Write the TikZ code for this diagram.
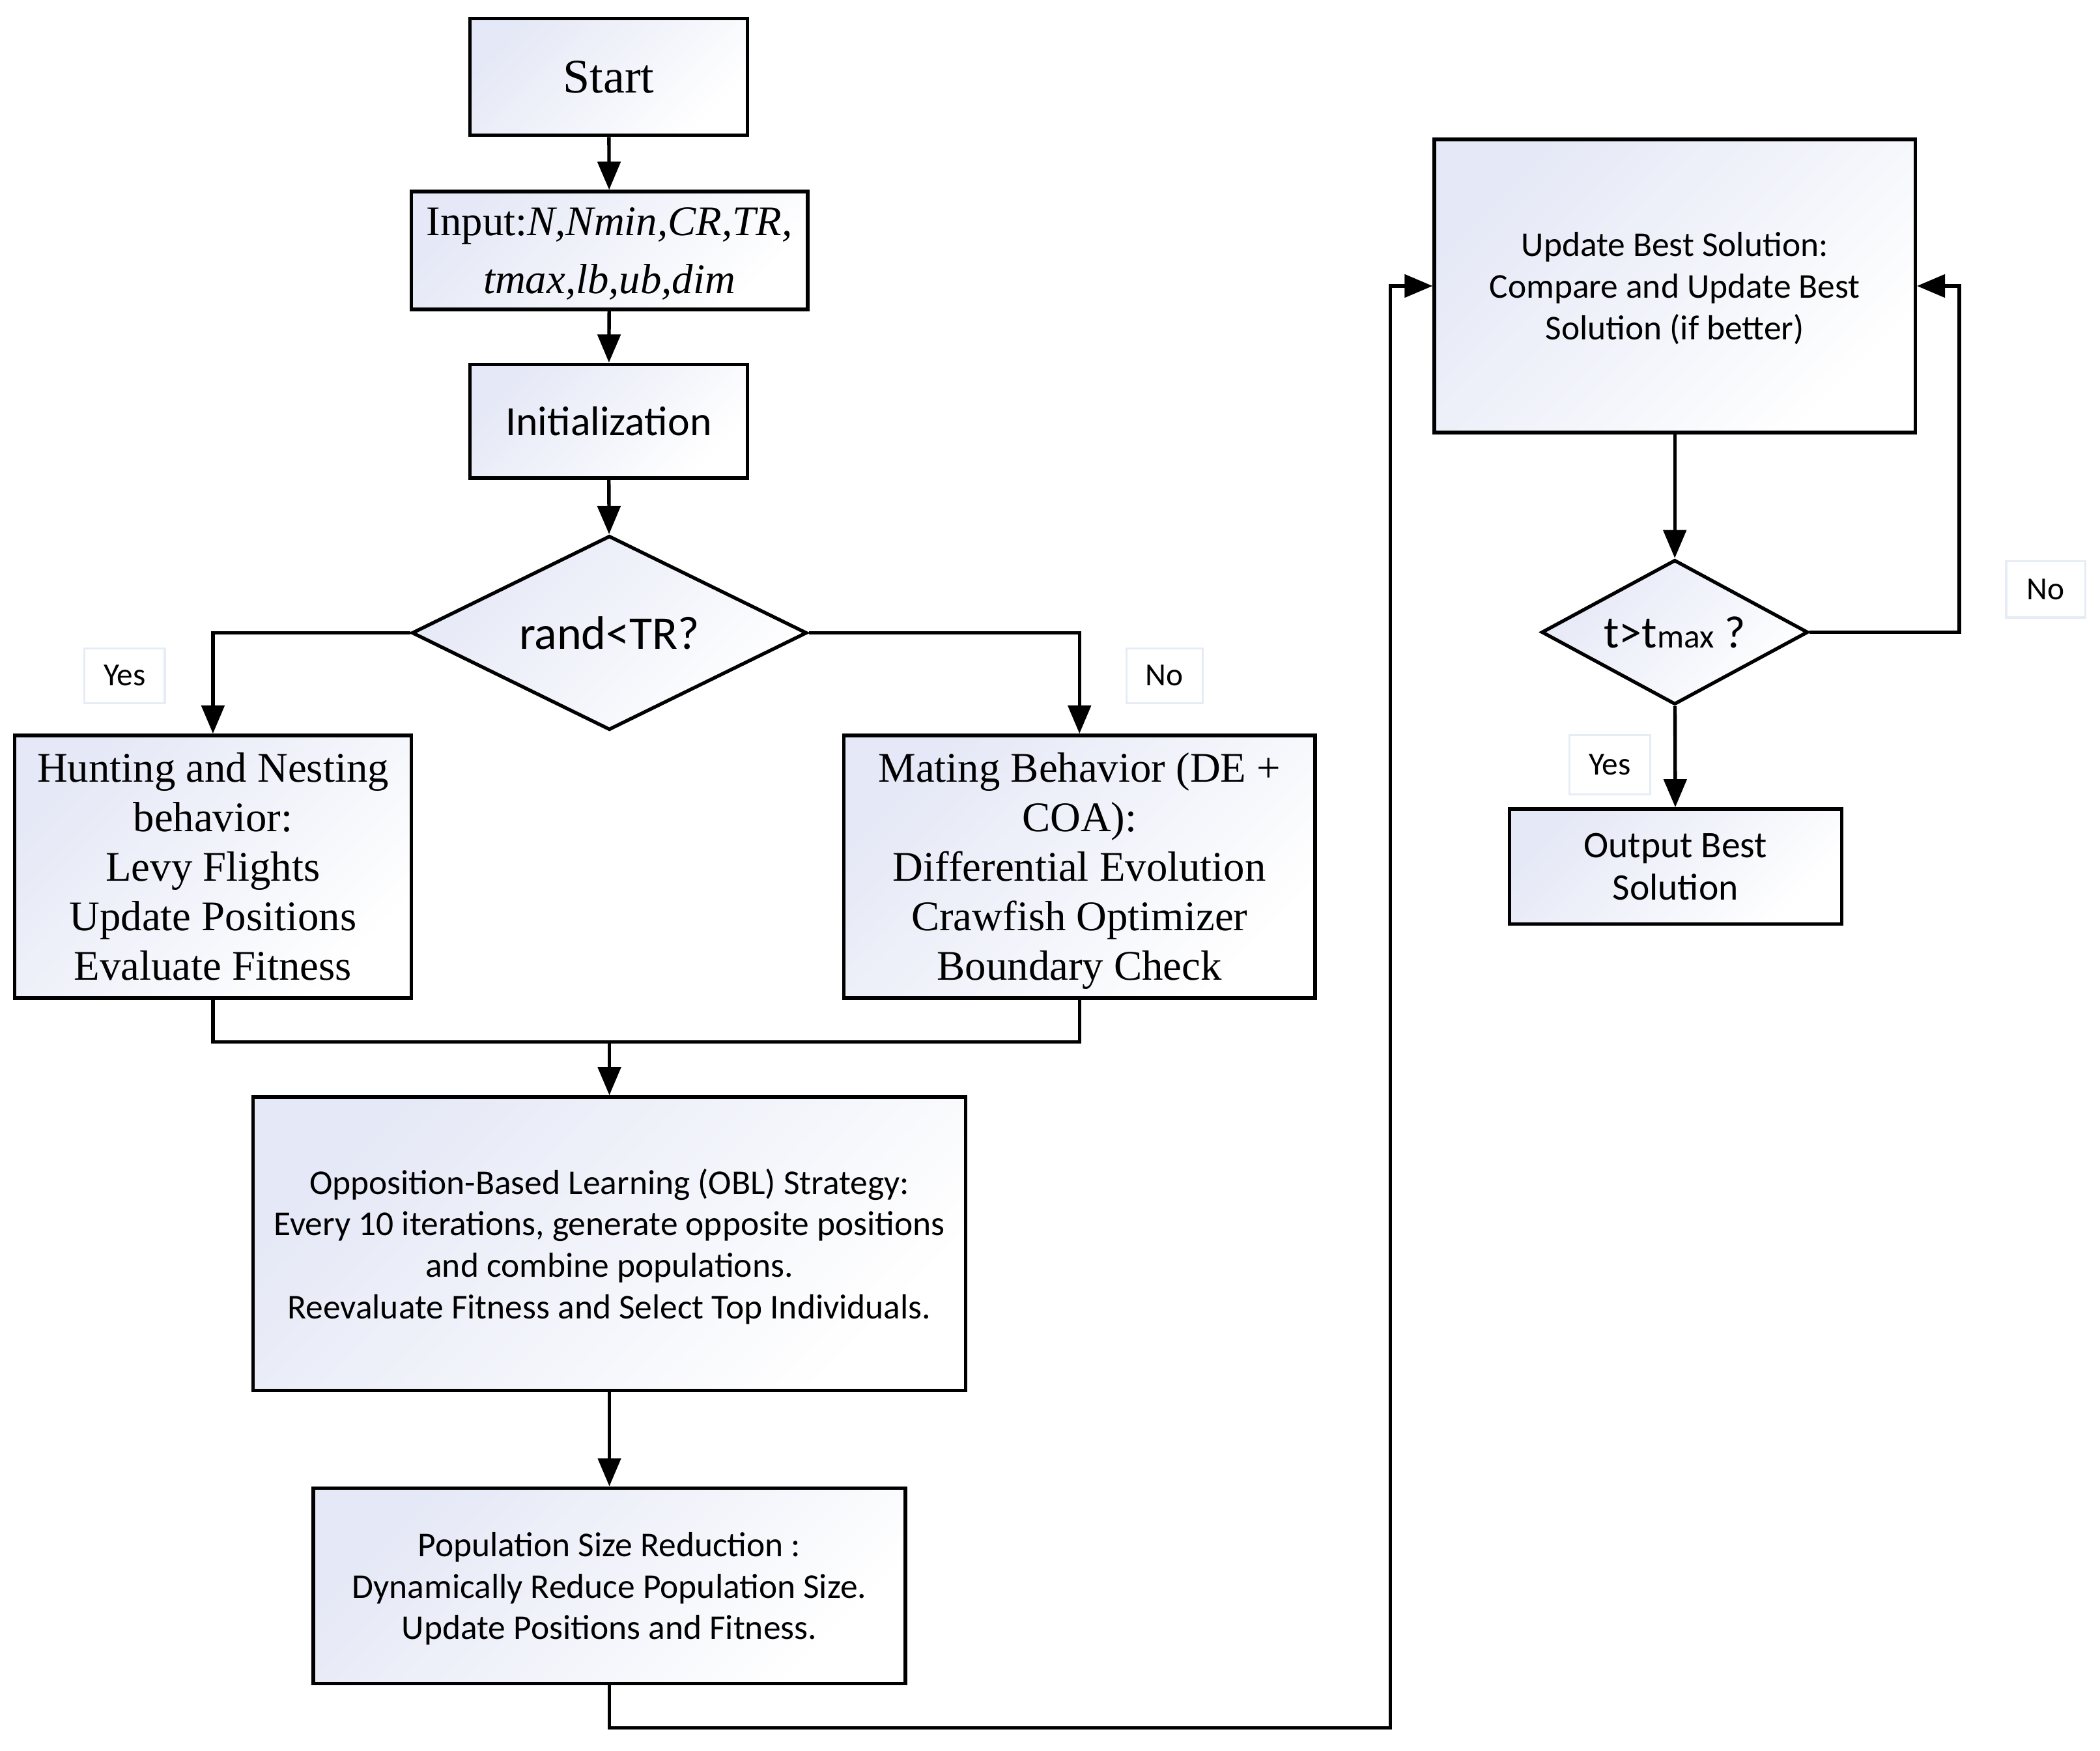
\documentclass[tikz,border=0pt]{standalone}
\usepackage{fontspec}
\setmainfont{Liberation Serif}
\newfontfamily\calib{Carlito}
\usetikzlibrary{shapes.geometric,arrows.meta}
\definecolor{shadeblue}{RGB}{229,232,246}
\definecolor{labelborder}{RGB}{230,236,245}
\tikzset{
  boxfill/.style={draw=black, line width=2.6pt, top color=shadeblue, bottom color=white, shading angle=45, inner sep=0pt, align=center, text depth=0pt},
  tbox/.style={boxfill, font=\fontsize{31.5}{37}\selectfont},
  cbox/.style={boxfill, font=\calib\fontsize{26}{31}\selectfont},
  dec/.style={boxfill, diamond, aspect=2},
  lbl/.style={draw=labelborder, line width=1.6pt, fill=white, inner sep=0pt, font=\calib\fontsize{24}{28}\selectfont},
  conn/.style={line width=2.6pt},
  arr/.style={line width=2.6pt, -{Triangle[length=21pt,width=17pt]}}
}
\begin{document}
\begin{tikzpicture}[x=1pt,y=-1pt]
\path[use as bounding box, fill=white] (0,0) rectangle (1568,1307);

\node[tbox, minimum width=207, minimum height=87, font=\fontsize{36}{40}\selectfont] (start) at (454.5,57.5) {Start};
\node[tbox, minimum width=296, minimum height=88, font=\fontsize{31.5}{43}\selectfont] (input) at (455,187) {Input:\textit{N,Nmin,CR,TR,}\\\textit{tmax,lb,ub,dim}};
\node[cbox, minimum width=207, minimum height=85, font=\calib\fontsize{31}{36}\selectfont] (init) at (454.5,314.5) {Initialization};
\node[dec, minimum width=295, minimum height=145, font=\calib\fontsize{35}{40}\selectfont] (d1) at (455,472.5) {rand<TR?};

\node[tbox, minimum width=296, minimum height=196] (hunt) at (159,647) {Hunting and Nesting\\behavior:\\Levy Flights\\Update Positions\\Evaluate Fitness};
\node[tbox, minimum width=352, minimum height=196] (mate) at (806,647) {Mating Behavior (DE +\\COA):\\Differential Evolution\\Crawfish Optimizer\\Boundary Check};

\node[lbl, minimum width=60, minimum height=41] (yes1) at (93,504.5) {Yes};
\node[lbl, minimum width=57, minimum height=41] (no1) at (869.5,504.5) {No};

\coordinate (m) at (455,778);
\node[cbox, minimum width=532, minimum height=219] (obl) at (455,928.5) {Opposition-Based Learning (OBL) Strategy:\\Every 10 iterations, generate opposite positions\\and combine populations.\\Reevaluate Fitness and Select Top Individuals.};
\node[cbox, minimum width=442, minimum height=146] (psr) at (455,1184) {Population Size Reduction :\\Dynamically Reduce Population Size.\\Update Positions and Fitness.};

\node[cbox, minimum width=359, minimum height=219] (upd) at (1250.5,213.5) {Update Best Solution:\\Compare and Update Best\\Solution (if better)};
\node[dec, minimum width=199, minimum height=108, font=\calib\fontsize{34}{40}\selectfont] (d2) at (1250.5,472) {t>t{\fontsize{25}{30}\selectfont max} ?};
\node[cbox, minimum width=248, minimum height=86, font=\calib\fontsize{28}{32}\selectfont] (out) at (1251,647) {Output Best\\Solution};

\node[lbl, minimum width=59, minimum height=42] (no2) at (1527.5,440) {No};
\node[lbl, minimum width=60, minimum height=44] (yes2) at (1202,571) {Yes};

\coordinate (c1) at (1038,1290);
\coordinate (c2) at (1463,472);

\draw[arr] (start) -- (input);
\draw[arr] (input) -- (init);
\draw[arr] (init) -- (d1);
\draw[arr] (d1.west) -| (hunt.north);
\draw[arr] (d1.east) -| (mate.north);
\draw[conn] (hunt.south) |- (m) -| (mate.south);
\draw[arr] (m) -- (obl.north);
\draw[arr] (obl) -- (psr);
\draw[arr] (psr.south) |- (c1) |- (upd.west);
\draw[arr] (upd) -- (d2);
\draw[arr] (d2.east) -- (c2) |- (upd.east);
\draw[arr] (d2) -- (out);
\end{tikzpicture}
\end{document}
